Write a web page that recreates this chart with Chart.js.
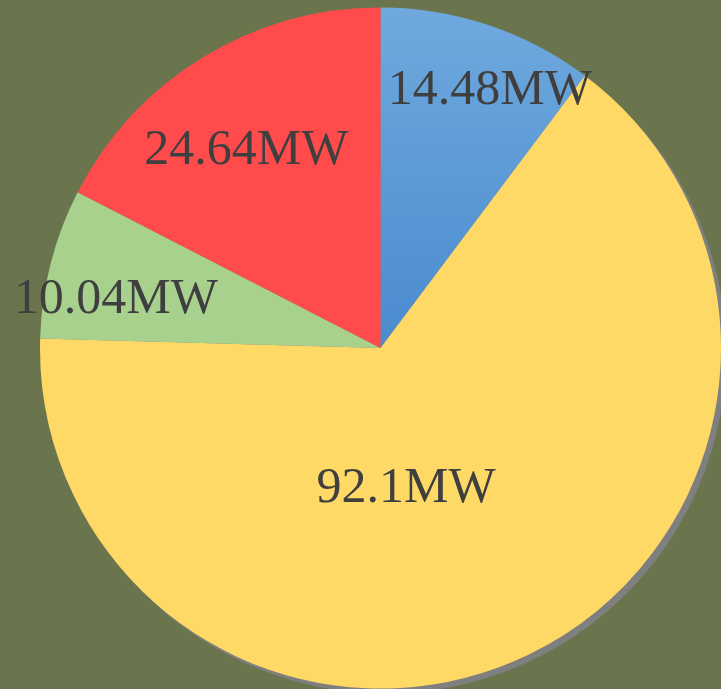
<!DOCTYPE html>
<html>
<head>
<meta charset="utf-8">
<script src="https://cdn.jsdelivr.net/npm/chart.js@4"></script>
<style>
  html, body { margin: 0; padding: 0; background: #6b754d; }
  canvas { display: block; }
</style>
</head>
<body>
<canvas id="myChart" width="721" height="689"></canvas>
<script>
// Capacity chart data
const categories = ['A', 'B', 'C', 'D'];
const capacity = [14.48, 92.1, 10.04, 24.64];
const unit = 'MW';

const sliceColors = ['#5b9bd5', '#ffd966', '#a9d18e', '#ff4b4b'];

// drop shadow + labels
const pieExtras = {
  id: 'pieExtras',
  beforeDatasetsDraw(chart) {
    const arc = chart.getDatasetMeta(0).data[0];
    const c = chart.ctx;
    c.save();
    c.fillStyle = '#7f7f7f';
    c.beginPath();
    c.arc(arc.x + 5, arc.y + 5, arc.outerRadius, 0, Math.PI * 2);
    c.fill();
    c.restore();
  },
  afterDatasetsDraw(chart, args, opts) {
    const c = chart.ctx;
    const meta = chart.getDatasetMeta(0);
    c.save();
    c.font = '50px "Liberation Serif", serif';
    c.fillStyle = '#3f3f3f';
    c.textAlign = 'center';
    c.textBaseline = 'middle';
    meta.data.forEach((a, i) => {
      const ang = (a.startAngle + a.endAngle) / 2 + opts.shift[i];
      const r = a.outerRadius * opts.dist[i];
      c.fillText(capacity[i] + unit, a.x + Math.cos(ang) * r, a.y + Math.sin(ang) * r);
    });
    c.restore();
  }
};

const ctx = document.getElementById('myChart');
new Chart(ctx, {
  type: 'pie',
  data: {
    labels: categories,
    datasets: [{
      data: capacity,
      borderWidth: 0,
      backgroundColor: (context) => {
        const i = context.dataIndex;
        if (i !== 0) return sliceColors[i];
        const area = context.chart.chartArea;
        if (!area) return sliceColors[0];
        const g = context.chart.ctx.createLinearGradient(0, area.top, 0, (area.top + area.bottom) / 2);
        g.addColorStop(0, '#6fa9de');
        g.addColorStop(1, '#4a8bcf');
        return g;
      }
    }]
  },
  options: {
    responsive: false,
    animation: false,
    devicePixelRatio: 1,
    layout: { padding: { left: 40, right: 0, top: 7, bottom: 0 } },
    plugins: {
      legend: { display: false },
      tooltip: { enabled: false },
      pieExtras: {
        dist: [0.82, 0.42, 0.79, 0.70],
        shift: [0.08, 0.27, -0.07, -0.05]
      }
    }
  },
  plugins: [pieExtras]
});
</script>
</body>
</html>
